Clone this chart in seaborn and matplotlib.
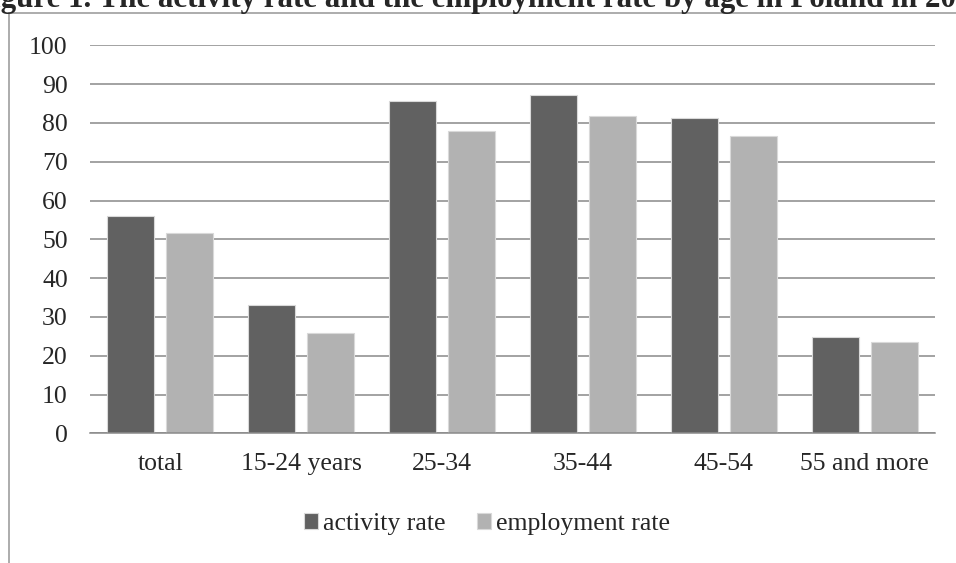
import matplotlib
matplotlib.use("Agg")
import matplotlib.pyplot as plt
import seaborn as sns
import pandas as pd
from matplotlib.patches import Rectangle

# data
age_groups = ["total", "15-24 years", "25-34", "35-44", "45-54", "55 and more"]
activity_rate = [56.1, 33.1, 85.7, 87.1, 81.3, 24.9]
employment_rate = [51.5, 25.8, 78.0, 81.9, 76.6, 23.5]
series_names = ["activity rate", "employment rate"]
y_ticks = list(range(0, 101, 10))

df = pd.DataFrame({
    "age": age_groups * 2,
    "rate": activity_rate + employment_rate,
    "series": [series_names[0]] * len(age_groups) + [series_names[1]] * len(age_groups),
})

sns.set_style("white")
plt.rcParams["font.family"] = ["Liberation Serif", "DejaVu Serif"]

W, H = 956, 563
fig = plt.figure(figsize=(W / 100, H / 100), dpi=100)

# outer chart frame (cut off on the right and bottom)
fig.patches.append(Rectangle((9 / W, -0.1), 1.2, (H - 12.7) / H + 0.1,
                             transform=fig.transFigure, fill=False,
                             edgecolor="#a6a6a6", linewidth=1.3))

ax = fig.add_axes([90 / W, (H - 433.3) / H, (935 - 90) / W, (433.3 - 45.3) / H])

palette = {series_names[0]: "#616161", series_names[1]: "#b2b2b2"}
sns.barplot(data=df, x="age", y="rate", hue="series", palette=palette,
            width=0.837, gap=0.203, edgecolor="#d9d9d9", linewidth=0.8,
            saturation=1, ax=ax, zorder=3)

ax.set_ylim(0, 100)
ax.set_yticks(y_ticks)
ax.set_xlim(-0.5, len(age_groups) - 0.5)
ax.yaxis.grid(True, color="#898989", linewidth=1.1)
ax.set_axisbelow(True)
for s in ["top", "right", "left"]:
    ax.spines[s].set_visible(False)
ax.spines["bottom"].set_color("#898989")
ax.spines["bottom"].set_linewidth(1.1)
ax.spines["bottom"].set_zorder(4)
ax.tick_params(axis="y", length=0, pad=16, labelsize=18.5)
ax.tick_params(axis="x", length=0, pad=14, labelsize=18.5)
ax.set_xlabel("")
ax.set_ylabel("")

handles, labels = ax.get_legend_handles_labels()
ax.legend(handles, labels, loc="center", bbox_to_anchor=(487 / W, (H - 524) / H),
          bbox_transform=fig.transFigure, ncol=2, frameon=False, fontsize=18.5,
          handlelength=0.55, handleheight=0.55, handletextpad=0.2,
          columnspacing=1.2)

# title is cut off by the edges of the picture, as in the original
fig.text(-27 / W, (H - 6.5) / H,
         "Figure 1. The activity rate and the employment rate by age in Poland in 20",
         ha="left", va="baseline", fontsize=22.3, fontweight="bold")

fig.savefig("out.png", dpi=100)
